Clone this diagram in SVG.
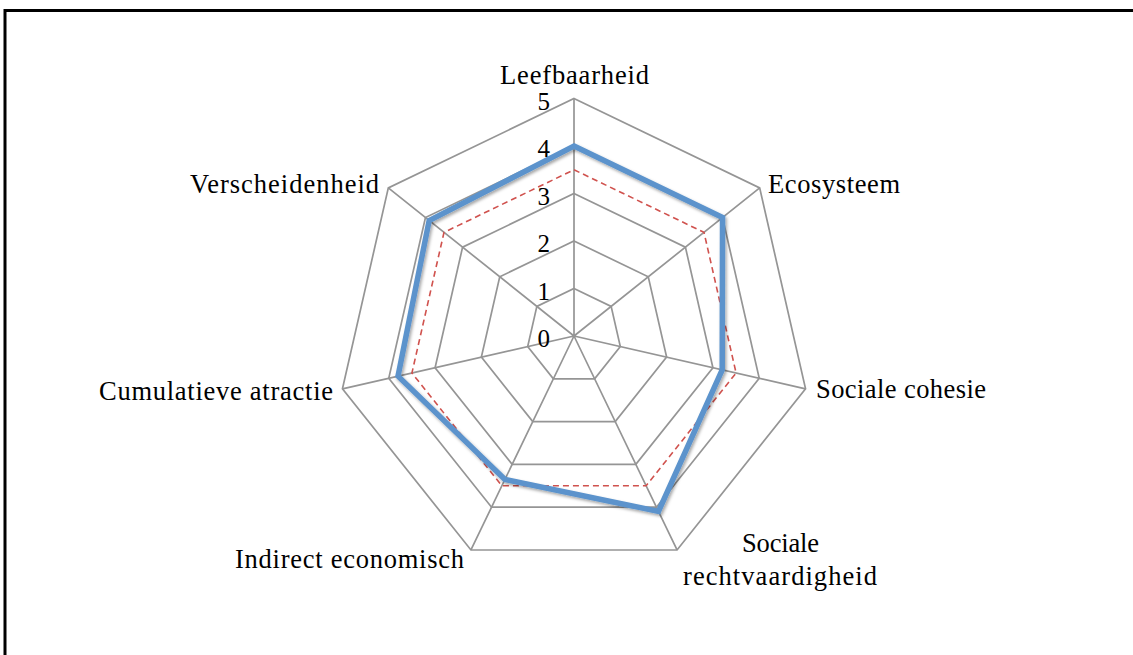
<svg xmlns="http://www.w3.org/2000/svg" width="1133" height="655" viewBox="0 0 1133 655">
<style>
.lbl{font-family:"Liberation Serif","Times New Roman",serif;font-size:26.5px;fill:#000}
.num{font-family:"Liberation Serif","Times New Roman",serif;font-size:25px;fill:#000;text-anchor:end}
.grid{fill:none;stroke:#959595;stroke-width:1.7;stroke-linejoin:miter}
.s1{fill:none;stroke:#5B93CC;stroke-width:5.5;stroke-linejoin:miter}
.s2{fill:none;stroke:#D0524E;stroke-width:1.6;stroke-dasharray:6 4}
</style>
<defs>
<filter id="sh" x="-10%" y="-10%" width="120%" height="120%">
<feDropShadow dx="1.5" dy="2" stdDeviation="1.5" flood-color="#000" flood-opacity="0.35"/>
</filter>
</defs>
<rect width="1133" height="655" fill="#fff"/>
<path d="M5,655 V10.5 H1133" fill="none" stroke="#000" stroke-width="3"/>
<g id="grid">
<polygon class="grid" points="574,288.5 611.14,306.38 620.31,346.57 594.61,378.8 553.39,378.8 527.69,346.57 536.86,306.38"/>
<polygon class="grid" points="574,241 648.27,276.77 666.62,357.14 615.22,421.59 532.78,421.59 481.38,357.14 499.73,276.77"/>
<polygon class="grid" points="574,193.5 685.41,247.15 712.93,367.71 635.83,464.39 512.17,464.39 435.07,367.71 462.59,247.15"/>
<polygon class="grid" points="574,146 722.55,217.54 759.24,378.28 656.44,507.18 491.56,507.18 388.76,378.28 425.45,217.54"/>
<polygon class="grid" points="574,98.5 759.68,187.92 805.55,388.85 677.05,549.98 470.95,549.98 342.45,388.85 388.32,187.92"/>
<path class="grid" d="M574,336 L574,98.5 M574,336 L759.68,187.92 M574,336 L805.55,388.85 M574,336 L677.05,549.98 M574,336 L470.95,549.98 M574,336 L342.45,388.85 M574,336 L388.32,187.92"/>
</g>
<g id="series">
<polygon class="s2" points="574,169.75 703.98,232.35 736.08,372.99 646.13,485.79 501.87,485.79 411.92,372.99 444.02,232.35"/>
<polygon class="s1" filter="url(#sh)" points="574,146 722.55,217.54 722.19,369.82 658.5,511.46 504.96,479.37 398.03,376.16 429.17,220.5"/>
</g>
<g id="scale">
<text class="num" x="550" y="347">0</text>
<text class="num" x="550" y="299.5">1</text>
<text class="num" x="550" y="252">2</text>
<text class="num" x="550" y="204.5">3</text>
<text class="num" x="550" y="157">4</text>
<text class="num" x="550" y="109.5">5</text>
</g>
<g id="n-leefbaarheid"><text class="lbl" x="500" y="84" textLength="149" lengthAdjust="spacing">Leefbaarheid</text></g>
<g id="n-ecosysteem"><text class="lbl" x="768" y="193" textLength="132" lengthAdjust="spacing">Ecosysteem</text></g>
<g id="n-sociale-cohesie"><text class="lbl" x="816" y="398" textLength="170" lengthAdjust="spacing">Sociale cohesie</text></g>
<g id="n-sociale-rechtvaardigheid">
<text class="lbl" x="742" y="552" textLength="77" lengthAdjust="spacing">Sociale</text>
<text class="lbl" x="683" y="585" textLength="194" lengthAdjust="spacing">rechtvaardigheid</text>
</g>
<g id="n-indirect-economisch"><text class="lbl" x="235" y="568" textLength="229" lengthAdjust="spacing">Indirect economisch</text></g>
<g id="n-cumulatieve-atractie"><text class="lbl" x="99" y="400" textLength="234" lengthAdjust="spacing">Cumulatieve atractie</text></g>
<g id="n-verscheidenheid"><text class="lbl" x="190" y="193" textLength="189" lengthAdjust="spacing">Verscheidenheid</text></g>
</svg>
